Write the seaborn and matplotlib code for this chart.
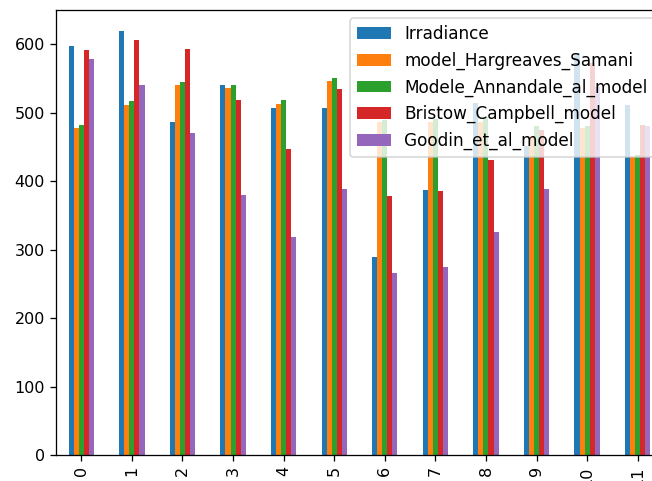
import numpy as np
import pandas as pd
import matplotlib
matplotlib.use("Agg")
import matplotlib.pyplot as plt
import seaborn as sns

days = list(range(12))
irradiance = [598, 619, 486, 541, 507, 507, 289, 387, 514, 451, 587, 511]
hargreaves = [478, 511, 540, 536, 513, 547, 486, 486, 486, 466, 477, 436]
annandale = [482, 517, 545, 540, 519, 550, 489, 491, 494, 480, 481, 438]
bristow = [591, 606, 593, 519, 447, 535, 378, 386, 431, 475, 572, 482]
goodin = [579, 540, 471, 380, 319, 389, 266, 275, 325, 389, 538, 481]

series = {
    'Irradiance': irradiance,
    'model_Hargreaves_Samani': hargreaves,
    'Modele_Annandale_al_model': annandale,
    'Bristow_Campbell_model': bristow,
    'Goodin_et_al_model': goodin,
}

df = pd.DataFrame(series, index=days)
long = df.reset_index().melt(id_vars='index', var_name='model', value_name='value')

dpi = 115
fig = plt.figure(figsize=(652 / dpi, 481 / dpi), dpi=dpi)
ax = fig.add_axes([56 / 652, 26 / 481, (663 - 56) / 652, 445 / 481])

sns.barplot(data=long, x='index', y='value', hue='model', palette='tab10',
            width=0.5, errorbar=None, linewidth=0, saturation=1, ax=ax)

ax.set_xlim(-0.5, len(days) - 0.5)
ax.set_ylim(0, 650)
ax.set_xlabel('')
ax.set_ylabel('')
ax.tick_params(axis='x', labelrotation=90)
ax.legend(loc='upper right', prop={'size': 10.6})

fig.savefig('out.png', dpi=dpi)
